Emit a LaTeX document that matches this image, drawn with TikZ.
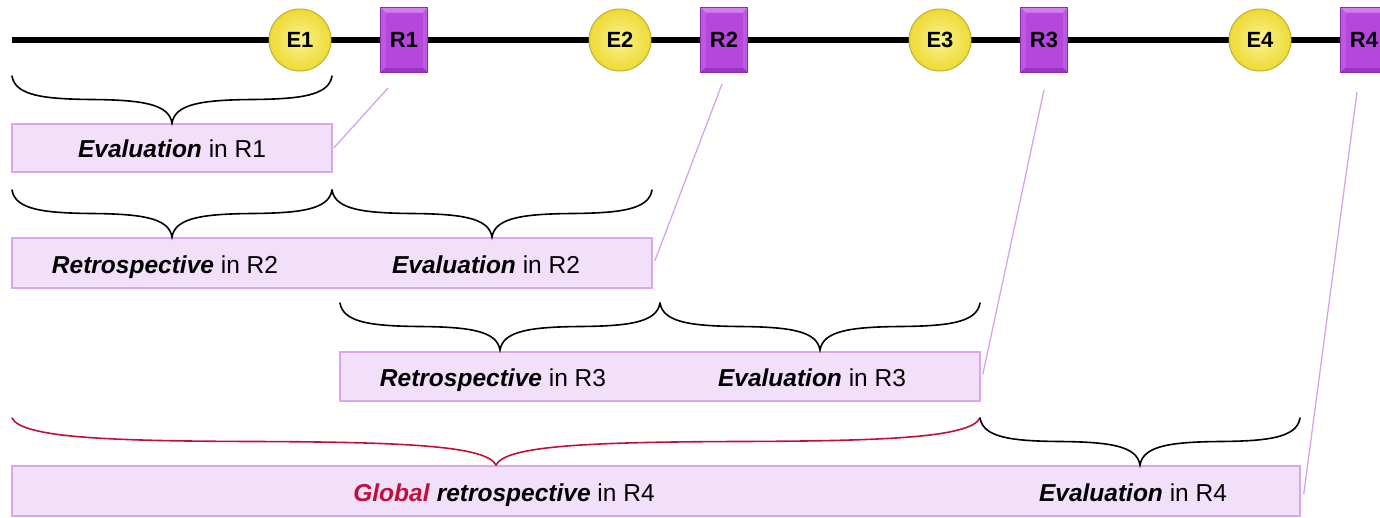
\documentclass[tikz,border=0pt]{standalone}
\usepackage{fontspec}
\setmainfont{Liberation Sans}
\definecolor{evtfill}{HTML}{EEDA36}
\definecolor{evtlight}{HTML}{FBF28C}
\definecolor{evtedge}{HTML}{C4AE28}
\definecolor{revtop}{HTML}{D27DF0}
\definecolor{revside}{HTML}{BC58E2}
\definecolor{revbottom}{HTML}{9A34C2}
\definecolor{revinner}{HTML}{B547DC}
\definecolor{revedge}{HTML}{8E2AB4}
\definecolor{boxfill}{HTML}{F2E0FA}
\definecolor{boxedge}{HTML}{DBA6EF}
\definecolor{linkcol}{HTML}{D9A2EE}
\definecolor{globred}{HTML}{C0103A}
\tikzset{
  evt/.style={circle, minimum size=62pt, inner sep=0pt, draw=evtedge, line width=1pt,
    shading=radial, inner color=evtlight, outer color=evtfill,
    font=\bfseries\fontsize{22}{26}\selectfont},
  rev/.style={rectangle, minimum width=47pt, minimum height=65pt, inner sep=0pt,
    fill=revside, draw=revedge, line width=0.5pt,
    path picture={
      \fill[revtop] (path picture bounding box.north west) -- (path picture bounding box.north east)
        -- ([shift={(-5pt,-5pt)}]path picture bounding box.north east) -- ([shift={(5pt,-5pt)}]path picture bounding box.north west) -- cycle;
      \fill[revbottom] (path picture bounding box.south west) -- (path picture bounding box.south east)
        -- ([shift={(-5pt,5pt)}]path picture bounding box.south east) -- ([shift={(5pt,5pt)}]path picture bounding box.south west) -- cycle;
      \fill[revinner] ([shift={(5pt,-5pt)}]path picture bounding box.north west) rectangle ([shift={(-5pt,5pt)}]path picture bounding box.south east);},
    font=\bfseries\fontsize{22}{26}\selectfont},
  lbox/.style={rectangle, draw=boxedge, fill=boxfill, line width=1.5pt, inner sep=0pt},
  ltext/.style={font=\fontsize{24.5}{29}\selectfont, inner sep=0pt, anchor=base},
  bracestyle/.style={line width=1.6pt, line cap=round},
  link/.style={draw=linkcol, line width=1.3pt}
}
\newcommand\mycurly[4][black]{%
  \pgfmathsetmacro\bxa{#2}\pgfmathsetmacro\bxb{#3}\pgfmathsetmacro\by{#4}%
  \pgfmathsetmacro\bw{(\bxb-\bxa)/2}\pgfmathsetmacro\bm{(\bxa+\bxb)/2}%
  \pgfmathsetmacro\bh{47}%
  \draw[bracestyle,draw=#1]
    (\bxa,\by) .. controls ({\bxa+0.02*\bw},{\by+0.42*\bh}) and ({\bxa+0.2*\bw},{\by+0.49*\bh}) .. ({\bxa+0.5*\bw},{\by+0.5*\bh})
    .. controls ({\bm-0.18*\bw},{\by+0.51*\bh}) and ({\bm-0.02*\bw},{\by+0.6*\bh}) .. (\bm,{\by+\bh})
    .. controls ({\bm+0.02*\bw},{\by+0.6*\bh}) and ({\bm+0.18*\bw},{\by+0.51*\bh}) .. ({\bxb-0.5*\bw},{\by+0.5*\bh})
    .. controls ({\bxb-0.2*\bw},{\by+0.49*\bh}) and ({\bxb-0.02*\bw},{\by+0.42*\bh}) .. (\bxb,\by);}
\begin{document}
\begin{tikzpicture}[x=1pt,y=-1pt]
\useasboundingbox (0,0) rectangle (1380,517);
% timeline
\coordinate (tl0) at (12,40);
\coordinate (tl1) at (1380,40);
\draw[line width=6pt] (tl0) -- (tl1);
% events and reviews
\node[evt] (E1) at (300,40) {E1};
\node[evt] (E2) at (620,40) {E2};
\node[evt] (E3) at (940,40) {E3};
\node[evt] (E4) at (1260,40) {E4};
\node[rev] (R1) at (404,40) {R1};
\node[rev] (R2) at (724,40) {R2};
\node[rev] (R3) at (1044,40) {R3};
\node[rev] (R4) at (1364,40) {R4};
% boxes
\node[lbox, minimum width=320pt, minimum height=48pt] (b1) at (172,148) {};
\node[lbox, minimum width=640pt, minimum height=50pt] (b2) at (332,263) {};
\node[lbox, minimum width=640pt, minimum height=49pt] (b3) at (660,376.5) {};
\node[lbox, minimum width=1288pt, minimum height=50pt] (b4) at (656,491) {};
% texts
\node[ltext] (t1) at (172,157) {\textbf{\textit{Evaluation}} in R1};
\node[ltext] (t2a) at (165,273) {\textbf{\textit{Retrospective}} in R2};
\node[ltext] (t2b) at (486,273) {\textbf{\textit{Evaluation}} in R2};
\node[ltext] (t3a) at (493,386) {\textbf{\textit{Retrospective}} in R3};
\node[ltext] (t3b) at (812,386) {\textbf{\textit{Evaluation}} in R3};
\node[ltext] (t4a) at (504,501) {\textcolor{globred}{\textbf{\textit{Global}}} \textbf{\textit{retrospective}} in R4};
\node[ltext] (t4b) at (1133,501) {\textbf{\textit{Evaluation}} in R4};
% braces
\mycurly{12}{332}{76}
\mycurly{12}{332}{190}
\mycurly{332}{652}{190}
\mycurly{340}{660}{303}
\mycurly{660}{980}{303}
\mycurly[globred]{12}{980}{418}
\mycurly{980}{1300}{418}
% links
\coordinate (c1) at (388,88);
\coordinate (c2) at (722,84);
\coordinate (c3) at (1044,90);
\coordinate (c4) at (1357,92);
\draw[link] (c1) -- ([xshift=1pt]b1.east);
\draw[link] (c2) -- ([xshift=2pt,yshift=2pt]b2.east);
\draw[link] (c3) -- ([xshift=2pt,yshift=2pt]b3.east);
\draw[link] (c4) -- ([xshift=3pt,yshift=-3pt]b4.east);
\end{tikzpicture}
\end{document}
